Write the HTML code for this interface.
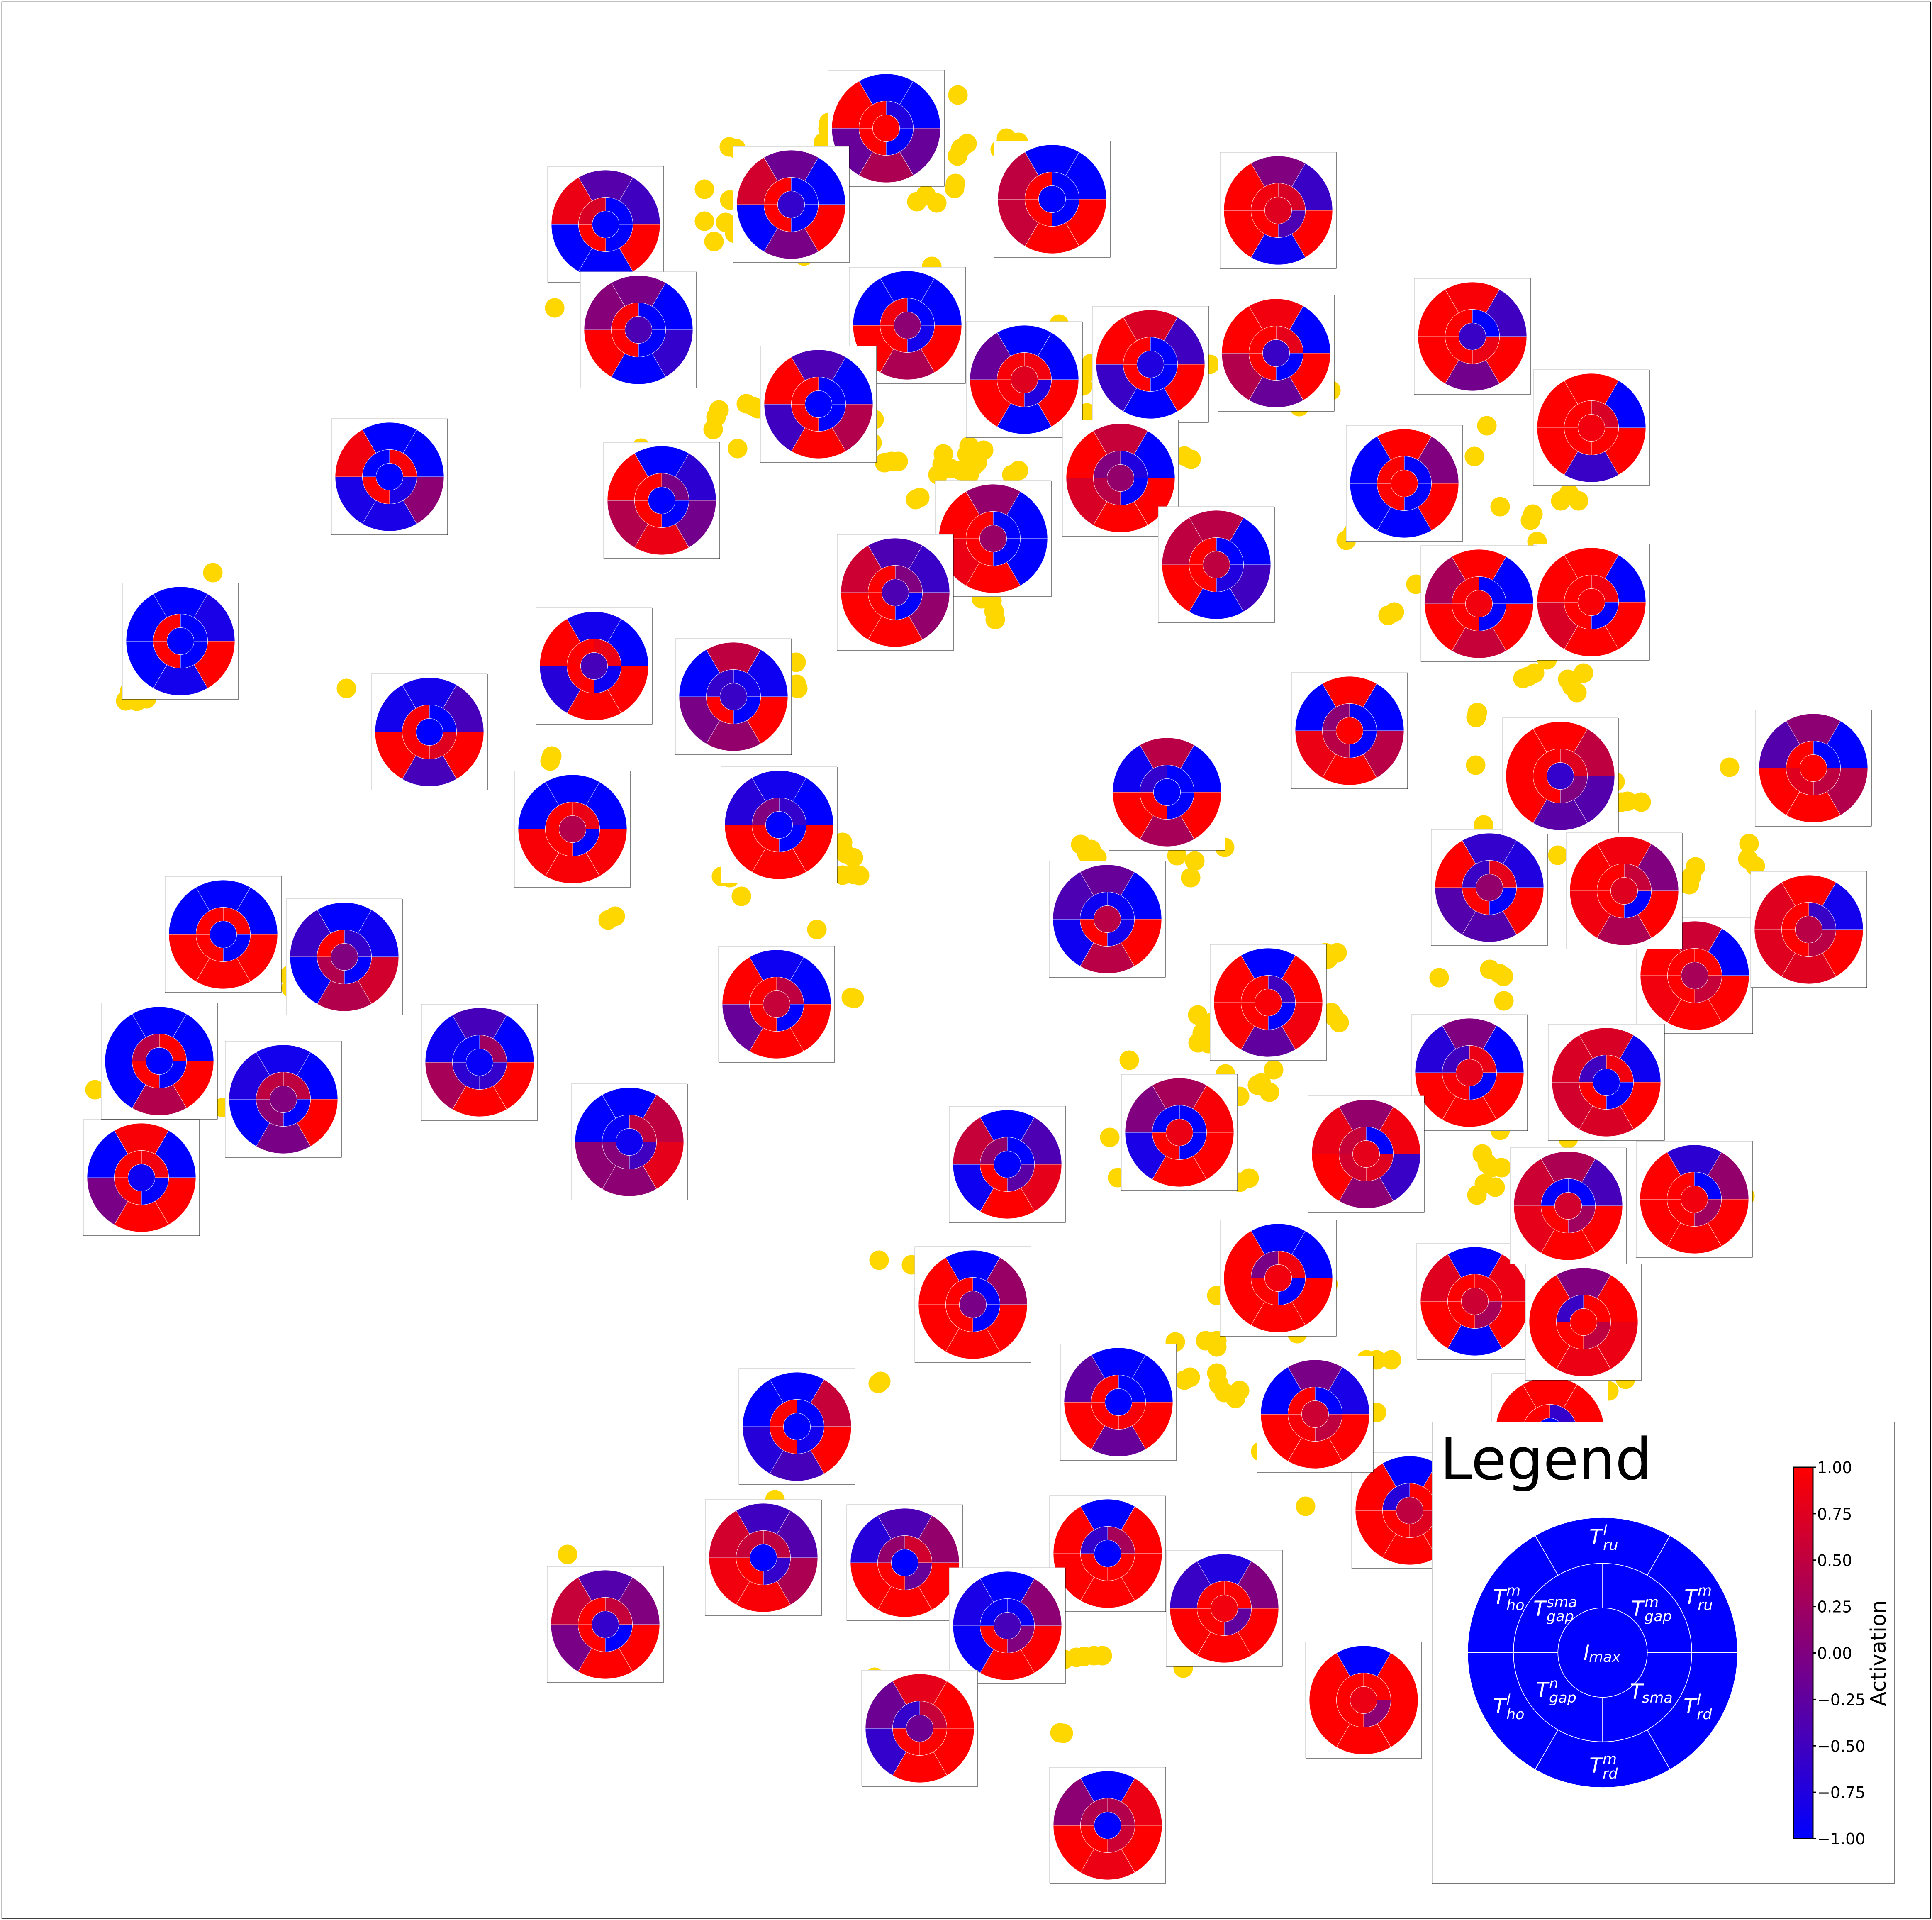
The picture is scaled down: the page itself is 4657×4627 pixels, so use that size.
<!DOCTYPE html>
<html lang="en">
<head>
<meta charset="utf-8">
<title>Activation embedding with radial insets</title>
<style>
html,body{margin:0;padding:0;background:#fff;}
svg{display:block;font-family:"DejaVu Sans","Liberation Sans",sans-serif;}
.m{font-style:italic;fill:#fff;font-size:50px;}
.s{font-size:35px;}
</style>
</head>
<body>
<svg id="chart" xmlns="http://www.w3.org/2000/svg" width="4657" height="4627" viewBox="0 0 4657 4627">
<defs>
<linearGradient id="cmap" x1="0" y1="1" x2="0" y2="0">
<stop offset="0" stop-color="#0000ff"/><stop offset="1" stop-color="#ff0000"/>
</linearGradient>
</defs>
<rect x="0" y="0" width="4657" height="4627" fill="#fff"/>
<rect x="4.5" y="4.5" width="4649" height="4618.5" fill="none" stroke="#000" stroke-width="1.5"/>
<g id="points"></g>
<g id="insets"></g>
<g id="legend">
<rect x="3452" y="3427" width="1114" height="1113" fill="#fff"/>
<path d="M3452 4540V3427" fill="none" stroke="#999" stroke-width="1"/>
<path d="M3452 4540H4566V3427" fill="none" stroke="#222" stroke-width="1.2"/>
<text x="3471" y="3565" font-size="139" fill="#000">Legend</text>
<g id="legend-disc"></g>
<text class="m" x="3831" y="3721">T<tspan class="s" x="3864" y="3700">l</tspan><tspan class="s" x="3864" y="3735">ru</tspan></text>
<text class="m" x="3599" y="3866">T<tspan class="s" x="3631" y="3845">m</tspan><tspan class="s" x="3631" y="3880">ho</tspan></text>
<text class="m" x="4060" y="3866">T<tspan class="s" x="4092" y="3845">m</tspan><tspan class="s" x="4092" y="3880">ru</tspan></text>
<text class="m" x="3696" y="3894">T<tspan class="s" x="3728" y="3873">sma</tspan><tspan class="s" x="3728" y="3907">gap</tspan></text>
<text class="m" x="3932" y="3894">T<tspan class="s" x="3964" y="3873">m</tspan><tspan class="s" x="3964" y="3907">gap</tspan></text>
<text class="m" x="3817" y="4000">I<tspan class="s" x="3830" y="4005">max</tspan></text>
<text class="m" x="3702" y="4090">T<tspan class="s" x="3734" y="4069">n</tspan><tspan class="s" x="3734" y="4103">gap</tspan></text>
<text class="m" x="3929" y="4094">T<tspan class="s" x="3958" y="4103">sma</tspan></text>
<text class="m" x="3599" y="4129">T<tspan class="s" x="3631" y="4108">l</tspan><tspan class="s" x="3631" y="4143">ho</tspan></text>
<text class="m" x="4058" y="4129">T<tspan class="s" x="4090" y="4108">l</tspan><tspan class="s" x="4090" y="4143">rd</tspan></text>
<text class="m" x="3831" y="4272">T<tspan class="s" x="3863" y="4251">m</tspan><tspan class="s" x="3863" y="4286">rd</tspan></text>
<rect x="4323" y="3536" width="47" height="895" fill="url(#cmap)" stroke="#000" stroke-width="3"/>
<g id="colorbar-ticks"></g>
<text transform="translate(4545,3984) rotate(-90)" text-anchor="middle" font-size="51" fill="#000">Activation</text>
</g>
</svg>
<script>
// Embedding coordinates of every background point (rows of ten, matched row by row).
const pointDim1 = [
133.7,51.3,154.5,230.9,175.8,177.4,169.8,169.8,175.9,174.9,
177.1,172.1,199.8,199.6,198.5,233.1,231.6,230.8,242.6,245.5,
241.1,230.3,230.1,221.0,223.2,225.8,224.6,193.8,255.3,263.0,
261.5,261.0,262.0,291.6,173.3,172.6,171.9,179.9,181.7,182.7,
177.8,210.7,210.2,213.2,216.5,214.9,221.7,220.7,227.4,227.1,
226.1,229.1,231.6,233.6,237.1,233.1,235.6,234.6,233.6,245.5,
243.9,287.1,285.5,236.6,239.6,239.9,239.1,320.8,313.2,358.4,
355.4,361.6,369.5,368.9,376.2,380.5,378.2,370.5,324.5,326.1,
341.3,334.6,336.1,22.9,53.7,83.5,133.0,132.6,148.3,146.6,
30.3,31.3,35.3,33.0,69.7,70.2,191.9,192.0,192.3,203.1,
203.8,205.7,203.1,207.2,205.7,173.9,175.9,178.7,196.9,205.2,
205.9,260.5,263.0,262.0,264.4,283.7,288.0,287.0,295.2,288.7,
288.8,289.8,291.3,291.8,272.2,295.4,267.5,269.4,298.8,303.1,
304.0,306.0,307.0,301.1,298.8,211.9,219.7,356.1,355.8,355.7,
416.9,367.1,369.9,368.4,377.9,381.7,378.9,380.1,372.9,389.3,
392.3,395.6,390.8,357.6,375.5,408.7,407.7,407.2,421.6,421.3,
423.1,319.5,322.3,320.1,346.9,359.1,361.4,362.4,362.5,320.9,
322.8,321.6,361.6,357.3,358.5,361.9,359.5,357.8,360.4,356.0,
378.0,420.6,283.3,290.6,293.3,293.3,285.5,286.9,293.3,293.8,
295.1,298.8,297.8,293.3,212.3,211.7,186.8,303.9,279.4,256.5,
259.5,261.3,263.7,265.7,285.2,255.5,256.3,210.8,320.1,312.7,
329.4,331.8,335.4,331.8,314.7,387.8,391.8,136.8
];
const pointDim2 = [
74.2,138.0,108.0,22.9,35.4,35.8,45.6,53.3,48.2,53.6,
56.2,58.2,29.5,31.0,34.3,34.6,35.8,37.6,33.3,34.3,
36.0,44.2,45.4,48.6,47.0,48.9,64.2,61.7,78.1,87.6,
90.0,93.0,99.5,87.8,98.8,100.5,103.5,97.3,98.0,98.5,
108.1,101.1,106.7,111.5,111.2,111.2,119.9,120.4,109.4,111.9,
114.4,112.9,113.4,107.5,108.5,109.5,111.4,112.4,114.4,113.4,
114.4,110.7,109.9,144.3,147.3,149.3,144.8,94.1,98.0,102.6,
110.0,122.1,123.9,125.4,120.7,120.7,118.9,130.5,130.2,128.4,
140.8,148.3,147.5,262.6,266.9,165.9,182.2,183.4,220.8,221.7,
168.9,166.4,168.4,169.0,235.1,238.1,159.6,164.9,165.9,203.0,
205.7,206.7,210.9,211.0,210.7,211.2,211.5,216.0,224.0,240.4,
240.6,203.5,204.7,205.7,206.7,206.2,207.5,211.5,204.2,244.6,
251.3,249.0,251.5,246.5,255.5,258.8,274.1,283.8,264.2,261.5,
261.0,263.2,257.8,283.9,284.9,303.7,304.8,171.7,172.9,184.4,
184.9,163.5,162.2,163.0,163.7,162.2,165.4,166.9,159.0,188.4,
193.1,193.3,193.3,198.8,206.1,208.9,211.2,213.2,203.3,207.0,
208.7,229.6,229.6,231.1,235.6,233.6,234.6,235.3,241.2,244.0,
246.4,245.0,272.4,278.1,280.4,281.4,281.4,285.3,286.1,288.0,
274.4,288.3,323.4,323.1,323.1,324.6,332.6,331.9,330.9,333.6,
335.6,335.1,337.0,312.2,332.9,333.4,361.4,349.8,383.3,399.9,
399.4,399.2,399.0,399.0,402.0,417.6,417.7,404.2,309.5,321.4,
327.7,327.7,327.7,340.4,363.0,335.2,332.4,374.6
];

// Embedding coordinates of every inset, in draw order.
const insetDim1 = [93.9,43.5,143.2,159.5,103.5,138.0,53.8,83.0,38.4,68.3,115.6,34.1,151.7,187.8,187.2,146.0,153.9,213.6,190.7,253.6,308.1,218.7,197.3,246.9,277.3,270.1,293.2,307.6,239.4,215.8,176.8,354.9,383.6,338.5,383.6,356.5,281.3,266.9,305.7,325.3,359.0,376.1,354.2,329.3,437.1,408.5,391.5,436.0,387.2,308.1,234.5,267.0,218.1,242.8,221.7,184.0,192.1,269.6,295.1,408.4,373.6,355.5,378.0,381.7,339.8,317.0,328.7,267.0,145.9,284.3,242.8];
const insetDim2 = [114.9,154.5,160.5,120.6,176.4,199.8,225.2,230.6,255.7,264.9,256.0,283.8,275.2,198.8,242.0,54.1,79.5,30.9,49.3,48.0,50.7,78.4,97.4,91.5,87.8,115.2,136.1,85.1,129.8,142.8,167.9,81.1,103.1,116.5,145.1,145.5,190.9,221.5,241.6,176.1,213.9,187.0,258.5,278.1,185.1,235.1,214.7,224.0,260.8,308.0,314.4,374.4,376.6,391.8,416.5,375.4,343.8,337.9,387.6,289.0,345.0,313.6,290.6,318.6,364.0,340.8,409.7,439.9,391.5,272.9,280.6];

// Outer ring activations: top, upper right, lower right, bottom, lower left, upper left.
const insetOuter = [
[-1,-1,.1,-.8,-.8,.9],[-1,-.8,1,-.85,-1,-1],[-.85,-1,1,1,-.7,1],[-1,-.65,-.1,.85,.4,1],
[-.85,-.45,1,-.45,1,-.85],[-1,-1,.95,.95,.95,-1],[-1,-1,1,1,1,-1],[-1,-.9,.65,.4,-1,-.55],
[-1,-1,1,.4,-1,-1],[-.85,-1,1,-.05,-1,-.75],[-.45,-1,1,1,.3,-.9],[.95,-1,1,1,-.05,-1],
[-1,.5,.8,.1,.1,-1],[-.85,-1,1,1,1,-.7],[-.9,-1,1,1,-.2,1],[-.33,-.5,1,-1,-1,.85],
[-.05,-1,-.6,-1,1,.05],[-1,-1,-.2,.35,-.2,1],[-.15,-1,1,-.05,-1,.65],[-1,-1,1,1,.55,.5],
[0,-.55,1,-.9,1,1],[-1,-1,1,.35,1,-1],[-.4,-1,.4,1,-.5,1],[-1,-1,1,-1,1,-.2],
[.7,-.5,1,-1,-.55,1],[.55,-1,1,1,.7,1],[.45,-1,-.5,-1,1,.5],[.9,-1,1,-.2,.4,1],
[.15,-1,-1,1,.85,1],[-.4,-.55,.15,1,1,.6],[.5,-.9,1,.15,-.05,-1],[.95,-.5,1,-.1,1,1],
[1,-1,1,-.55,1,1],[1,0,1,-1,-1,-1],[1,-1,1,1,.7,1],[1,-1,1,.55,1,.3],
[.45,-1,1,.3,1,-.9],[-.2,-1,1,.45,-.9,-.4],[-1,1,.9,-.25,1,1],[1,-1,.45,1,.85,-1],
[-.6,-.75,1,-.35,-.35,1],[1,.5,-.35,-.3,1,1],[0,-1,1,1,1,-.7],[.15,.9,-.55,.1,1,.85],
[.1,-1,.4,1,1,-.35],[.6,-1,1,1,.9,1],[.9,0,1,.35,.9,1],[1,-.85,1,.75,.75,.75],
[.7,-.9,1,.7,.65,.7],[-1,-1,1,1,1,1],[-1,.2,1,1,1,1],[-1,1,1,1,1,1],
[-.4,.15,1,1,1,-.7],[-1,.1,1,1,-.95,-.8],[.8,1,1,1,-.6,-.15],[-.5,-.35,.35,.95,.9,.65],
[-1,.55,1,-.45,-.7,-1],[-1,-1,1,-.2,1,-.25],[-.75,0,1,1,1,-.55],[-.65,.15,1,1,1,1],
[1,1,1,1,1,1],[-1,.85,1,-1,1,.75],[.35,-.45,1,1,.8,.6],[0,1,.85,.85,1,1],
[-1,1,1,1,1,1],[-.05,-.8,1,1,1,-1],[-1,1,1,1,1,1],[-1,.85,1,.85,1,.1],
[-.35,0,1,1,-.05,.55],[.3,.95,1,1,-.8,0],[-1,-.4,.8,1,-.9,.55]
];

// Middle ring activations: upper right, lower right, lower left, upper left.
const insetMiddle = [
[.95,-.8,1,-1],[-1,-1,1,1],[.85,-.9,1,1],[-.05,-1,1,1],
[-1,.75,.95,.95],[.85,-1,1,1],[1,-1,1,1],[-.6,-1,.4,1],
[1,-1,1,.45],[.5,-1,.1,.5],[.25,-.6,-.65,-.95],[.9,-1,1,1],
[.5,-.5,.05,-.95],[-.6,-1,1,0],[.5,-1,1,1],[-1,-1,1,.7],
[-1,-1,1,1],[-.75,-1,1,1],[-1,-1,1,1],[-1,-1,1,1],
[.7,-.4,1,.9],[-1,-.85,1,.9],[-1,-1,1,1],[.9,-.75,.95,.95],
[-1,-1,1,1],[-.75,-1,.45,0],[-1,-.75,1,1],[.8,-1,1,1],
[-1,-1,1,1],[0,-1,1,1],[-.85,-1,1,-.6],[-1,.85,1,1],
[.7,1,1,1],[-1,-1,1,1],[.9,-1,1,1],[-1,-1,1,.95],
[-1,-1,1,-.6],[-.95,-.85,1,-.9],[-.5,-1,1,1],[-1,-1,.45,.1],
[.8,-1,1,-.55],[.75,0,1,1],[.85,-1,.95,-.5],[-1,.75,.65,.55],
[-1,.5,.75,1],[1,.55,1,1],[.55,-1,1,1],[-.55,.45,1,1],
[.9,-1,1,-.5],[.9,-1,1,-.05],[-1,-1,1,1],[.3,1,1,-.6],
[.65,-.2,1,.15],[-.95,0,1,-.95],[.55,1,1,-.6],[.5,-.6,1,.55],
[-1,-.85,1,1],[-1,.95,1,1],[1,-.25,1,1],[-1,.25,1,1],
[-.6,1,1,1],[.9,.3,1,1],[-1,.25,1,-1],[1,.5,1,-.55],
[1,.75,1,-.7],[-1,.5,.95,1],[1,.1,1,1],[.4,.6,1,.4],
[.55,-1,1,1],[-1,-1,1,-1],[-1,-.3,1,.15]
];

// Centre activation of each inset.
const insetCenter = [-1,-1,-.45,-1,-1,.4,-1,0,-1,0,-.95,-.9,-.9,-1,.55,-1,-.4,1,-.6,-1,.75,.1,-1,.75,-.75,.15,.5,-.55,.2,-.4,-.55,-.55,.9,1,.95,.9,-1,.45,.95,1,.15,-.6,.8,.8,1,.3,.75,.45,-.95,.9,-.05,-1,-1,-.45,-.15,-1,-1,-1,.9,.9,-1,.6,.65,1,.5,.6,.85,-1,-.6,.85,-1];

// Colorbar ticks and legend disc values.
const colorbarTicks = [1,.75,.5,.25,0,-.25,-.5,-.75,-1];
const colorbarTickLabels = ["1.00","0.75","0.50","0.25","0.00","\u22120.25","\u22120.50","\u22120.75","\u22121.00"];
const legendOuter = [-1,-1,-1,-1,-1,-1];
const legendMiddle = [-1,-1,-1,-1];
const legendCenter = -1;

const NS = "http://www.w3.org/2000/svg";
const xDomain = [0, 465.7], xRange = [0, 4657];
const yDomain = [0, 462.7], yRange = [0, 4627];
function xAxis(v) { return xRange[0] + (v - xDomain[0]) / (xDomain[1] - xDomain[0]) * (xRange[1] - xRange[0]); }
function yAxis(v) { return yRange[0] + (v - yDomain[0]) / (yDomain[1] - yDomain[0]) * (yRange[1] - yRange[0]); }
function colorbarAxis(v) { return 4431 - (v + 1) / 2 * (4431 - 3536); }
function activationColor(v) {
  const t = Math.max(0, Math.min(1, (v + 1) / 2));
  return "rgb(" + Math.round(255 * t) + ",0," + Math.round(255 * (1 - t)) + ")";
}
function sectorPath(cx, cy, r0, r1, a0, a1) {
  const rad = Math.PI / 180;
  const px = (r, a) => (cx + r * Math.cos(a * rad)).toFixed(2);
  const py = (r, a) => (cy - r * Math.sin(a * rad)).toFixed(2);
  return "M" + px(r0, a0) + " " + py(r0, a0) +
    "L" + px(r1, a0) + " " + py(r1, a0) +
    "A" + r1 + " " + r1 + " 0 0 0 " + px(r1, a1) + " " + py(r1, a1) +
    "L" + px(r0, a1) + " " + py(r0, a1) +
    "A" + r0 + " " + r0 + " 0 0 1 " + px(r0, a0) + " " + py(r0, a0) + "Z";
}
const outerAngles = [60, 0, -60, -120, -180, -240];
const middleAngles = [0, -90, -180, -270];

function drawDisc(parent, cx, cy, radii, outer, middle, center, lineWidth, lineOpacity) {
  outer.forEach((v, i) => {
    const seg = document.createElementNS(NS, "path");
    
    
    seg.setAttribute("d", sectorPath(cx, cy, radii[1], radii[2], outerAngles[i], outerAngles[i] + 60));
    seg.setAttribute("fill", activationColor(v));
    seg.setAttribute("stroke", "#fff");
    seg.setAttribute("stroke-width", lineWidth);
    seg.setAttribute("stroke-opacity", lineOpacity);
    parent.appendChild(seg);
  });
  middle.forEach((v, i) => {
    const seg = document.createElementNS(NS, "path");
    
    
    seg.setAttribute("d", sectorPath(cx, cy, radii[0], radii[1], middleAngles[i], middleAngles[i] + 90));
    seg.setAttribute("fill", activationColor(v));
    seg.setAttribute("stroke", "#fff");
    seg.setAttribute("stroke-width", lineWidth);
    seg.setAttribute("stroke-opacity", lineOpacity);
    parent.appendChild(seg);
  });
  const core = document.createElementNS(NS, "circle");
  
  
  core.setAttribute("cx", cx);
  core.setAttribute("cy", cy);
  core.setAttribute("r", radii[0]);
  core.setAttribute("fill", activationColor(center));
  core.setAttribute("stroke", "#fff");
  core.setAttribute("stroke-width", lineWidth);
  core.setAttribute("stroke-opacity", lineOpacity);
  parent.appendChild(core);
}

const pointLayer = document.getElementById("points");
pointDim1.forEach((d1, i) => {
  const dot = document.createElementNS(NS, "circle");
  
  
  dot.setAttribute("cx", xAxis(d1).toFixed(1));
  dot.setAttribute("cy", yAxis(pointDim2[i]).toFixed(1));
  dot.setAttribute("r", 23.5);
  dot.setAttribute("fill", "#ffd700");
  pointLayer.appendChild(dot);
});

const insetLayer = document.getElementById("insets");
const half = 140;
insetDim1.forEach((d1, i) => {
  const cx = xAxis(d1), cy = yAxis(insetDim2[i]);
  const g = document.createElementNS(NS, "g");
  
  
  const bg = document.createElementNS(NS, "rect");
  
  
  bg.setAttribute("x", cx - half);
  bg.setAttribute("y", cy - half);
  bg.setAttribute("width", half * 2);
  bg.setAttribute("height", half * 2);
  bg.setAttribute("fill", "#fff");
  g.appendChild(bg);
  const light = document.createElementNS(NS, "path");
  
  
  light.setAttribute("d", "M" + (cx - half) + " " + (cy + half) + "V" + (cy - half) + "H" + (cx + half));
  light.setAttribute("fill", "none");
  light.setAttribute("stroke", "#bbb");
  light.setAttribute("stroke-width", 1);
  g.appendChild(light);
  const dark = document.createElementNS(NS, "path");
  
  
  dark.setAttribute("d", "M" + (cx - half) + " " + (cy + half) + "H" + (cx + half) + "V" + (cy - half));
  dark.setAttribute("fill", "none");
  dark.setAttribute("stroke", "#000");
  dark.setAttribute("stroke-width", 1);
  g.appendChild(dark);
  drawDisc(g, cx, cy, [32.5, 65.5, 131], insetOuter[i], insetMiddle[i], insetCenter[i], 1, 0.7);
  insetLayer.appendChild(g);
});

drawDisc(document.getElementById("legend-disc"), 3863, 3982.5, [107.7, 215, 325.4], legendOuter, legendMiddle, legendCenter, 1.6, 1);

const tickLayer = document.getElementById("colorbar-ticks");
colorbarTicks.forEach((v, i) => {
  const y = colorbarAxis(v);
  const tick = document.createElementNS(NS, "line");
  
  
  tick.setAttribute("x1", 4370);
  tick.setAttribute("x2", 4377);
  tick.setAttribute("y1", y);
  tick.setAttribute("y2", y);
  tick.setAttribute("stroke", "#000");
  tick.setAttribute("stroke-width", 3);
  tickLayer.appendChild(tick);
  const label = document.createElementNS(NS, "text");
  
  
  label.setAttribute("x", 4380);
  label.setAttribute("y", y + 14);
  label.setAttribute("font-size", 38);
  label.setAttribute("fill", "#000");
  label.textContent = colorbarTickLabels[i];
  tickLayer.appendChild(label);
});
</script>
</body>
</html>
